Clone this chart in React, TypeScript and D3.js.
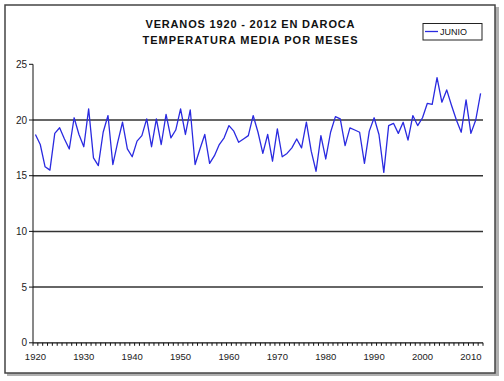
import React from "react";
import * as d3 from "d3";

const years: number[] = d3.range(1920, 2013);
const junio: number[] = [
  18.7, 17.8, 15.8, 15.5, 18.8, 19.3, 18.3, 17.4, 20.2, 18.7,
  17.6, 21.0, 16.6, 15.9, 18.9, 20.4, 16.0, 18.0, 19.8, 17.4,
  16.7, 18.1, 18.6, 20.1, 17.6, 20.1, 17.8, 20.5, 18.4, 19.1,
  21.0, 18.7, 20.9, 16.0, 17.4, 18.7, 16.1, 16.8, 17.8, 18.4,
  19.5, 19.0, 18.0, 18.3, 18.6, 20.4, 18.9, 17.0, 18.7, 16.3,
  19.2, 16.7, 17.0, 17.5, 18.3, 17.5, 19.8, 17.2, 15.4, 18.6,
  16.5, 18.9, 20.3, 20.1, 17.7, 19.3, 19.1, 18.9, 16.1, 19.0,
  20.2, 18.7, 15.3, 19.5, 19.7, 18.8, 19.8, 18.2, 20.4, 19.5,
  20.2, 21.5, 21.4, 23.8, 21.6, 22.7, 21.3, 20.0, 18.9, 21.8,
  18.8, 20.0, 22.4,
];
const yTicks: number[] = [0, 5, 10, 15, 20, 25];
const gridValues: number[] = [5, 10, 15, 20];
const xLabelYears: number[] = [1920, 1930, 1940, 1950, 1960, 1970, 1980, 1990, 2000, 2010];
const titleLines: string[] = ["VERANOS 1920 - 2012 EN DAROCA", "TEMPERATURA MEDIA POR MESES"];
const seriesName = "JUNIO";

export default function App() {
  const W = 504, H = 381;
  const left = 33, right = 483, top = 64.3, bottom = 342.8;
  const x = d3.scalePoint<number>().domain(years).range([left, right]).padding(0.5);
  const y = d3.scaleLinear().domain([0, 25]).range([bottom, top]);
  const step = x.step();
  const line = d3.line<number>().x((_, i) => x(years[i]) as number).y((d) => y(d));
  const font = "'Liberation Sans', Arial, sans-serif";
  const tickEdges = d3.range(0, years.length + 1).map((i) => left + i * step);

  return (
    <svg width={W} height={H} style={{ position: "absolute", left: 0, top: 0, background: "#fff" }}>
      <rect x={0} y={0} width={W} height={H} fill="#fff" />
      {/* frame shadow */}
      <rect x={7} y={7} width={492} height={369} fill="#b0b0b0" />
      <rect x={5} y={5} width={490} height={368} fill="#fff" stroke="#444" strokeWidth={1.5} />
      {/* title */}
      <text x={250} y={28} textAnchor="middle" fontFamily={font} fontWeight="bold" fontSize={11}
        textLength={209} lengthAdjust="spacing" fill="#111">{titleLines[0]}</text>
      <text x={250} y={44} textAnchor="middle" fontFamily={font} fontWeight="bold" fontSize={11}
        textLength={215} lengthAdjust="spacing" fill="#111">{titleLines[1]}</text>
      {/* legend */}
      <rect x={423} y={23.5} width={59} height={16.5} fill="#fff" stroke="#222" strokeWidth={1} />
      <line x1={425} x2={438} y1={31.5} y2={31.5} stroke="#2a2ae0" strokeWidth={1.3} />
      <text x={440} y={35} fontFamily={font} fontSize={9} fill="#111">{seriesName}</text>
      {/* gridlines */}
      {gridValues.map((v) => (
        <line key={v} x1={left} x2={right} y1={y(v)} y2={y(v)} stroke="#333" strokeWidth={1.5} />
      ))}
      {/* y axis */}
      <line x1={left} x2={left} y1={top} y2={bottom} stroke="#111" strokeWidth={1} />
      {yTicks.map((v) => (
        <g key={v}>
          <line x1={left - 4} x2={left} y1={y(v)} y2={y(v)} stroke="#111" strokeWidth={1} />
          <text x={left - 6} y={y(v) + 3.5} textAnchor="end" fontFamily={font} fontSize={10} fill="#222">{v}</text>
        </g>
      ))}
      {/* x axis */}
      <line x1={left} x2={right} y1={bottom} y2={bottom} stroke="#111" strokeWidth={1.2} />
      {tickEdges.map((tx, i) => (
        <line key={i} x1={tx} x2={tx} y1={bottom} y2={bottom + 3} stroke="#111" strokeWidth={1} />
      ))}
      {xLabelYears.map((yr) => (
        <text key={yr} x={x(yr) as number} y={360} textAnchor="middle" fontFamily={font} fontSize={9.5} fill="#222">{yr}</text>
      ))}
      {/* series */}
      <path d={line(junio) || ""} fill="none" stroke="#2a2ae0" strokeWidth={1.3} strokeLinejoin="round" />
    </svg>
  );
}
